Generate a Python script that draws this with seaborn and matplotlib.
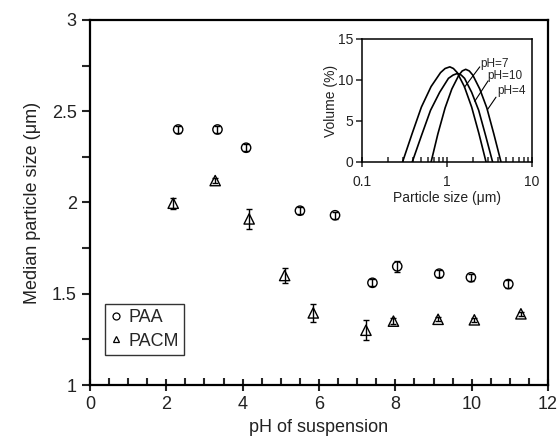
import numpy as np
import pandas as pd
import seaborn as sns
import matplotlib.pyplot as plt
from matplotlib.ticker import MultipleLocator, LogLocator, NullFormatter, FormatStrFormatter
from matplotlib.lines import Line2D

# main data: median particle size vs pH
ph_paa = [2.31, 3.34, 4.09, 5.50, 6.42, 7.40, 8.05, 9.15, 9.98, 10.96]
size_paa = [2.40, 2.40, 2.30, 1.955, 1.93, 1.56, 1.65, 1.61, 1.59, 1.553]
err_paa = [0.02, 0.02, 0.02, 0.02, 0.02, 0.02, 0.03, 0.02, 0.02, 0.02]

ph_pacm = [2.18, 3.28, 4.17, 5.10, 5.85, 7.23, 7.95, 9.12, 10.07, 11.29]
size_pacm = [1.996, 2.12, 1.91, 1.60, 1.395, 1.30, 1.35, 1.36, 1.357, 1.39]
err_pacm = [0.03, 0.015, 0.057, 0.04, 0.05, 0.055, 0.015, 0.01, 0.01, 0.01]

# inset: particle size distributions
size_ph7 = [0.30, 0.39, 0.50, 0.65, 0.84, 0.95, 1.08, 1.19, 1.32, 1.60, 1.95, 2.37, 2.88]
vol_ph7 = [0.0, 3.5, 6.7, 9.2, 10.9, 11.4, 11.6, 11.4, 10.9, 9.2, 6.7, 3.5, 0.0]
size_ph10 = [0.39, 0.50, 0.64, 0.82, 1.04, 1.18, 1.33, 1.47, 1.61, 1.95, 2.36, 2.85, 3.44]
vol_ph10 = [0.0, 3.2, 6.3, 8.5, 10.2, 10.6, 10.8, 10.6, 10.2, 8.5, 6.3, 3.2, 0.0]
size_ph4 = [0.65, 0.78, 0.95, 1.14, 1.38, 1.51, 1.66, 1.83, 2.01, 2.43, 2.94, 3.56, 4.32]
vol_ph4 = [0.0, 3.4, 6.6, 8.9, 10.6, 11.1, 11.3, 11.1, 10.6, 8.9, 6.6, 3.4, 0.0]

sns.set_style("ticks")
plt.rcParams["font.family"] = ["Liberation Sans", "DejaVu Sans"]

fig = plt.figure(figsize=(5.6, 4.47), dpi=100)
ax = fig.add_axes([0.1607, 0.1387, 0.8179, 0.8166])

ax.errorbar(ph_paa, size_paa, yerr=err_paa, fmt="none", ecolor="black",
            elinewidth=1, capsize=2.5, capthick=1, zorder=2)
ax.errorbar(ph_pacm, size_pacm, yerr=err_pacm, fmt="none", ecolor="black",
            elinewidth=1, capsize=2.5, capthick=1, zorder=2)
sns.scatterplot(x=ph_paa, y=size_paa, marker="o", s=45, fc="none", ec="black",
                linewidth=1, ax=ax, zorder=3)
sns.scatterplot(x=ph_pacm, y=size_pacm, marker="^", s=55, fc="none", ec="black",
                linewidth=1, ax=ax, zorder=3)

ax.set_xlim(0, 12)
ax.set_ylim(1, 3)
ax.xaxis.set_major_locator(MultipleLocator(2))
ax.xaxis.set_minor_locator(MultipleLocator(0.5))
ax.yaxis.set_major_locator(MultipleLocator(0.5))
ax.yaxis.set_minor_locator(MultipleLocator(0.25))
ax.yaxis.set_major_formatter(FormatStrFormatter("%g"))
ax.tick_params(axis="x", which="major", direction="inout", length=9, width=1.5,
               labelsize=13, colors="#222222")
ax.tick_params(axis="x", which="minor", direction="in", length=5, width=1.5)
ax.tick_params(axis="y", which="major", direction="out", length=6, width=1.5,
               labelsize=13, colors="#222222")
ax.tick_params(axis="y", which="minor", direction="out", length=6, width=1.5)
for sp in ax.spines.values():
    sp.set_linewidth(1.6)
    sp.set_color("black")
ax.set_xlabel("pH of suspension", fontsize=13, color="#222222", labelpad=4)
ax.set_ylabel("Median particle size (\u03bcm)", fontsize=13, color="#222222", labelpad=8)

handles = [
    Line2D([], [], marker="o", ls="none", mfc="none", mec="black", ms=5, mew=0.9),
    Line2D([], [], marker="^", ls="none", mfc="none", mec="black", ms=5, mew=0.9),
]
leg = ax.legend(handles, ["PAA", "PACM"], loc="lower left", bbox_to_anchor=(0.033, 0.082),
                borderaxespad=0, fontsize=13, frameon=True, fancybox=False,
                handlelength=0.6, handletextpad=0.4, borderpad=0.3, labelspacing=0.35)
leg.get_frame().set_edgecolor("black")
leg.get_frame().set_linewidth(1)

# inset
ax_in = fig.add_axes([0.6464, 0.6376, 0.3036, 0.2752])
for xs, ys in [(size_ph7, vol_ph7), (size_ph10, vol_ph10), (size_ph4, vol_ph4)]:
    sns.lineplot(x=xs, y=ys, color="black", lw=1.2, ax=ax_in)
ax_in.set_xscale("log")
ax_in.set_xlim(0.1, 10)
ax_in.set_ylim(0, 15)
ax_in.set_yticks([0, 5, 10, 15])
ax_in.xaxis.set_minor_locator(LogLocator(base=10, subs=np.arange(2, 10)))
ax_in.xaxis.set_minor_formatter(NullFormatter())
ax_in.set_xticks([0.1, 1, 10])
ax_in.set_xticklabels(["0.1", "1", "10"])
ax_in.tick_params(axis="x", which="major", direction="inout", length=7, width=1.1,
                  labelsize=10, pad=6, colors="#222222")
ax_in.tick_params(axis="x", which="minor", direction="in", length=3.5, width=1.1)
ax_in.tick_params(axis="y", which="major", direction="out", length=4, width=1.1,
                  labelsize=10, pad=2, colors="#222222")
for sp in ax_in.spines.values():
    sp.set_linewidth(1.1)
    sp.set_color("black")
ax_in.set_xlabel("Particle size (\u03bcm)", fontsize=10, color="#222222", labelpad=1)
ax_in.set_ylabel("Volume (%)", fontsize=10, color="#222222", labelpad=0)

ax_in.text(2.48, 12.0, "pH=7", fontsize=8.5, va="center", ha="left")
ax_in.text(2.97, 10.5, "pH=10", fontsize=8.5, va="center", ha="left")
ax_in.text(3.9, 8.6, "pH=4", fontsize=8.5, va="center", ha="left")
ax_in.plot([2.43, 1.60], [11.6, 9.1], color="black", lw=0.8)
ax_in.plot([3.05, 2.12], [9.9, 7.4], color="black", lw=0.8)
ax_in.plot([3.77, 3.0], [7.9, 6.4], color="black", lw=0.8)

fig.savefig("out.png", dpi=100)
